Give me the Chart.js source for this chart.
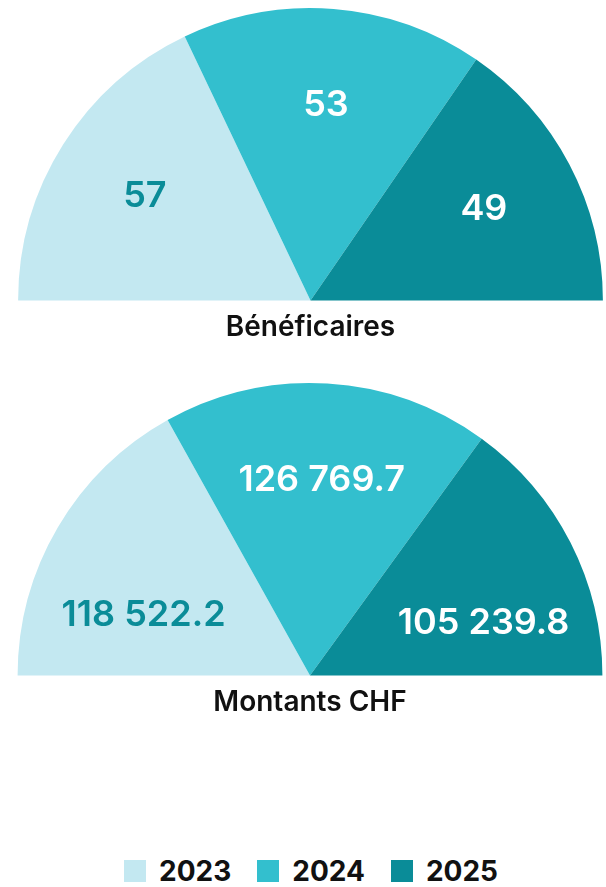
<!DOCTYPE html>
<html>
<head>
<meta charset="utf-8">
<script src="https://cdn.jsdelivr.net/npm/chart.js@4"></script>
<style>
    body { margin: 0; width: 606px; height: 887px; background: #fff; font-family: Inter, sans-serif; position: relative; overflow: hidden; }
    .chart-box { position: absolute; left: 0; width: 606px; height: 350px; }
    #legend { position: absolute; left: 8px; width: 606px; top: 857px; display: flex; justify-content: center; align-items: center; }
    .legend-item { display: flex; align-items: center; margin: 0 13px; }
    .legend-swatch { width: 22px; height: 22px; margin-right: 13px; }
    .legend-text { font: 700 28px Inter, sans-serif; color: #111; line-height: 28px; }
</style>
</head>
<body>
<div class="chart-box" style="top:0"><canvas id="beneficiairesChart" width="606" height="350"></canvas></div>
<div class="chart-box" style="top:375px"><canvas id="montantsChart" width="606" height="350"></canvas></div>
<div id="legend"></div>

<script>
// Data
const years = ['2023', '2024', '2025'];
const beneficiaires = [57, 53, 49];
const montants = [118522.2, 126769.7, 105239.8];
const titles = ['Bénéficaires', 'Montants CHF'];

const colors = ['#c3e8f1', '#33bfce', '#0a8c98'];
const labelColors = ['#0a8c98', '#ffffff', '#ffffff'];

// Format number with space as thousands separator
function formatValue(v) {
    const parts = v.toString().split('.');
    parts[0] = parts[0].replace(/\B(?=(\d{3})+(?!\d))/g, ' ');
    return parts.join('.');
}

// Smallest distance from a text box (centred at px,py relative to arc centre) to the slice edges
function boxMargin(px, py, w, h, s, e, R) {
    let m = Infinity;
    [[-w / 2, -h / 2], [w / 2, -h / 2], [-w / 2, h / 2], [w / 2, h / 2]].forEach(([ox, oy]) => {
        const x = px + ox, y = py + oy;
        const dS = Math.cos(s) * y - Math.sin(s) * x;
        const dE = -(Math.cos(e) * y - Math.sin(e) * x);
        const dArc = R - Math.hypot(x, y);
        m = Math.min(m, dS, dE, dArc);
    });
    return m;
}

// Draw value labels inside each slice: on the mid angle if the text fits there,
// otherwise at the spot where it fits best
const sliceLabels = {
    id: 'sliceLabels',
    afterDatasetsDraw(chart) {
        const ctx = chart.ctx;
        const meta = chart.getDatasetMeta(0);
        const values = chart.data.datasets[0].data;
        ctx.save();
        ctx.font = '600 36px Inter, sans-serif';
        ctx.textAlign = 'center';
        ctx.textBaseline = 'middle';
        meta.data.forEach((arc, i) => {
            const p = arc.getProps(['x', 'y', 'startAngle', 'endAngle', 'outerRadius'], true);
            const text = formatValue(values[i]);
            const w = ctx.measureText(text).width + 10;
            const R = p.outerRadius;
            const mid = (p.startAngle + p.endAngle) / 2;
            let pos = { x: Math.cos(mid) * R * 0.67, y: Math.sin(mid) * R * 0.67 };
            if (boxMargin(pos.x, pos.y, w, 44, p.startAngle, p.endAngle, R) < 15) {
                let best = -Infinity;
                for (let gx = -R; gx <= R; gx += 2) {
                    for (let gy = -R; gy <= 0; gy += 2) {
                        const m = boxMargin(gx, gy, w, 80, p.startAngle, p.endAngle, R);
                        if (m > best) { best = m; pos = { x: gx, y: gy }; }
                    }
                }
            }
            ctx.fillStyle = labelColors[i];
            ctx.fillText(text, p.x + pos.x, p.y + pos.y);
        });
        ctx.restore();
    }
};

function makeHalfPie(canvasId, values, title, padLeft) {
    return new Chart(document.getElementById(canvasId), {
        type: 'doughnut',
        data: {
            labels: years,
            datasets: [{
                data: values,
                backgroundColor: colors,
                borderWidth: 0,
                hoverOffset: 0
            }]
        },
        options: {
            responsive: false,
            animation: false,
            rotation: -90,
            circumference: 180,
            cutout: 0,
            layout: {
                padding: { left: padLeft, right: 3, top: 8, bottom: 6 }
            },
            plugins: {
                legend: { display: false },
                tooltip: { enabled: false },
                title: {
                    display: true,
                    text: title,
                    position: 'bottom',
                    color: '#111',
                    font: { family: 'Inter', size: 28, weight: '600' },
                    padding: { top: 10, bottom: 0 }
                }
            }
        },
        plugins: [sliceLabels]
    });
}

makeHalfPie('beneficiairesChart', beneficiaires, titles[0], 18);
makeHalfPie('montantsChart', montants, titles[1], 17);

// Legend
document.getElementById('legend').innerHTML = years.map((y, i) => `
    <div class="legend-item">
        <span class="legend-swatch" style="background:${colors[i]}"></span>
        <span class="legend-text">${y}</span>
    </div>
`).join('');
</script>
</body>
</html>
